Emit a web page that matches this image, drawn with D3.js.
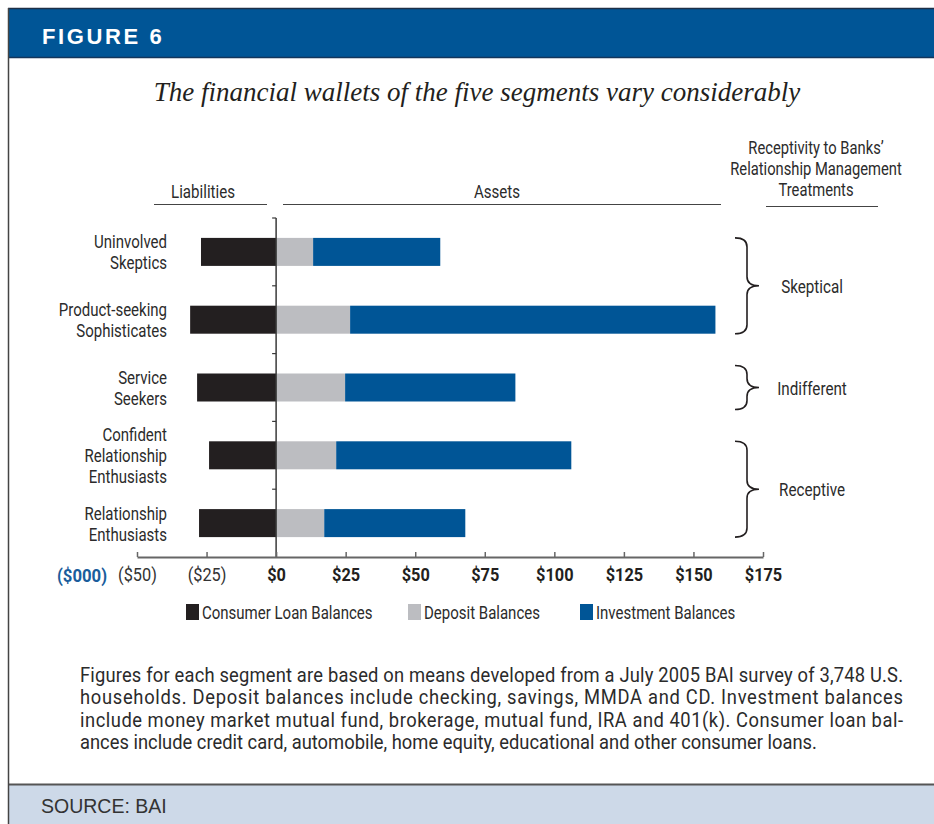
<!DOCTYPE html>
<html>
<head>
<meta charset="utf-8">
<script src="https://cdn.jsdelivr.net/npm/d3@7"></script>
<style>
  body { margin: 0; background: #fff; }
  text { font-family: "Roboto", "Liberation Sans", sans-serif; fill: #2b2b2b; }
</style>
</head>
<body>
<div id="chart"></div>
<script>
// chart data ($000)
let segments = ["Uninvolved Skeptics", "Product-seeking Sophisticates", "Service Seekers",
                "Confident Relationship Enthusiasts", "Relationship Enthusiasts"];
let segmentLines = [["Uninvolved", "Skeptics"], ["Product-seeking", "Sophisticates"],
                    ["Service", "Seekers"], ["Confident", "Relationship", "Enthusiasts"],
                    ["Relationship", "Enthusiasts"]];
let loans = [-27.0, -30.9, -28.4, -24.1, -27.7];
let deposits = [13.3, 26.6, 24.8, 21.6, 17.3];
let investments = [45.7, 131.3, 61.2, 84.5, 50.7];

let groupNames = ["Skeptical", "Indifferent", "Receptive"];
let groupFirst = [0, 2, 3];
let groupLast = [1, 2, 4];

let tickValues = [-50, -25, 0, 25, 50, 75, 100, 125, 150, 175];
let seriesNames = ["Consumer Loan Balances", "Deposit Balances", "Investment Balances"];

let footnote = [
  "Figures for each segment are based on means developed from a July 2005 BAI survey of 3,748 U.S.",
  "households. Deposit balances include checking, savings, MMDA and CD. Investment balances",
  "include money market mutual fund, brokerage, mutual fund, IRA and 401(k). Consumer loan bal-",
  "ances include credit card, automobile, home equity, educational and other consumer loans."
];

//==========================================================
let width_svg = 934, height_svg = 824;
let colors = {loan: "#231f20", deposit: "#bcbdc1", invest: "#005596"};

let svg = d3.select("#chart").append("svg")
            .attr("width", width_svg)
            .attr("height", height_svg);

// condensed text: no narrow font installed, so squeeze Roboto horizontally
function ctext(parent, x, y, str, size, sx, anchor) {
  return parent.append("text")
               .attr("transform", `translate(${x},${y}) scale(${sx},1)`)
               .attr("text-anchor", anchor || "start")
               .style("font-size", size + "px")
               .text(str);
}

// frame, header band and source band
svg.append("rect").attr("x", 8).attr("y", 8).attr("width", width_svg - 8).attr("height", 50)
   .attr("fill", "#005596");
svg.append("line").attr("x1", 8).attr("x2", width_svg).attr("y1", 8.5).attr("y2", 8.5)
   .attr("stroke", "#1d2f47").attr("stroke-width", 1.5);
svg.append("line").attr("x1", 8).attr("x2", width_svg).attr("y1", 57.5).attr("y2", 57.5)
   .attr("stroke", "#13365c").attr("stroke-width", 1.5);
svg.append("rect").attr("x", 8).attr("y", 784).attr("width", width_svg - 8).attr("height", 40)
   .attr("fill", "#cdd9e8");
svg.append("line").attr("x1", 8).attr("x2", width_svg).attr("y1", 784.5).attr("y2", 784.5)
   .attr("stroke", "#555").attr("stroke-width", 2);
svg.append("line").attr("x1", 8.5).attr("x2", 8.5).attr("y1", 8).attr("y2", height_svg)
   .attr("stroke", "#444").attr("stroke-width", 1.5);

svg.append("text").attr("x", 42).attr("y", 44)
   .style("font-family", "'Liberation Sans', Arial, sans-serif")
   .style("font-weight", "bold").style("font-size", "22px").style("letter-spacing", "2.6px")
   .style("fill", "#fff").text("FIGURE 6");

svg.append("text").attr("x", 477).attr("y", 101).attr("text-anchor", "middle")
   .style("font-family", "'Liberation Serif', 'DejaVu Serif', serif")
   .style("font-style", "italic").style("font-size", "27px").style("fill", "#231f20")
   .text("The financial wallets of the five segments vary considerably");

//==========================================================
// scales
let x = d3.scaleLinear().domain([-50, 175]).range([137, 763]);
let y = d3.scaleBand().domain(segments).range([218, 557])
          .paddingInner(0.587).paddingOuter(0.2935);

// column headers
ctext(svg, 203, 198, "Liabilities", 18, 0.84, "middle");
svg.append("line").attr("x1", 154).attr("x2", 267).attr("y1", 204.5).attr("y2", 204.5)
   .attr("stroke", "#444");
ctext(svg, 497, 198, "Assets", 18, 0.84, "middle");
svg.append("line").attr("x1", 283).attr("x2", 721).attr("y1", 204.5).attr("y2", 204.5)
   .attr("stroke", "#444");
["Receptivity to Banks\u2019", "Relationship Management", "Treatments"].forEach((t, i) => {
  ctext(svg, 816, 154 + i * 21, t, 18, 0.82, "middle");
});
svg.append("line").attr("x1", 766).attr("x2", 878).attr("y1", 206.5).attr("y2", 206.5)
   .attr("stroke", "#444");

//==========================================================
// stacked bars
let rows = segments.map((s, i) => ({seg: s, loan: loans[i], dep: deposits[i], inv: investments[i]}));
let chart = svg.append("g");

chart.selectAll(".loan").data(rows).enter().append("rect")
     .attr("class", "loan")
     .attr("x", d => x(d.loan)).attr("width", d => x(0) - x(d.loan))
     .attr("y", d => y(d.seg)).attr("height", y.bandwidth())
     .attr("fill", colors.loan);
chart.selectAll(".dep").data(rows).enter().append("rect")
     .attr("class", "dep")
     .attr("x", x(0)).attr("width", d => x(d.dep) - x(0))
     .attr("y", d => y(d.seg)).attr("height", y.bandwidth())
     .attr("fill", colors.deposit);
chart.selectAll(".inv").data(rows).enter().append("rect")
     .attr("class", "inv")
     .attr("x", d => x(d.dep)).attr("width", d => x(d.dep + d.inv) - x(d.dep))
     .attr("y", d => y(d.seg)).attr("height", y.bandwidth())
     .attr("fill", colors.invest);

// vertical zero axis with ticks between categories
let yTop = y.range()[0], yBot = y.range()[1];
chart.append("line").attr("x1", x(0)).attr("x2", x(0)).attr("y1", yTop).attr("y2", yBot)
     .attr("stroke", "#3a3a3a").attr("stroke-width", 1.5);
let bounds = segments.map(s => y(s) + y.bandwidth() / 2 - y.step() / 2);
chart.selectAll(".ytick").data(bounds).enter().append("line")
     .attr("x1", x(0) - 4).attr("x2", x(0)).attr("y1", d => d).attr("y2", d => d)
     .attr("stroke", "#3a3a3a").attr("stroke-width", 1.2);

// category labels
rows.forEach((d, i) => {
  let lines = segmentLines[i];
  let cy = y(d.seg) + y.bandwidth() / 2;
  lines.forEach((t, j) => {
    ctext(svg, 167, cy + (j - (lines.length - 1) / 2) * 21 + 7, t, 19, 0.79, "end");
  });
});

// x axis
let xAxis = svg.append("g").attr("transform", `translate(0, ${yBot})`)
               .call(d3.axisBottom(x).tickValues(tickValues).tickSize(-5).tickSizeOuter(0)
                       .tickPadding(11)
                       .tickFormat(v => v < 0 ? `($${-v})` : `$${v}`));
xAxis.select(".domain").attr("stroke", "#666").attr("stroke-width", 2);
xAxis.selectAll(".tick line").attr("stroke", "#666").attr("stroke-width", 1.5);
xAxis.selectAll(".tick text")
     .attr("transform", "scale(0.86,1)")
     .style("font-family", "'Roboto', sans-serif")
     .style("font-size", "19px")
     .style("font-weight", v => v < 0 ? "normal" : "bold")
     .style("fill", v => v < 0 ? "#333" : "#231f20");

svg.append("text").attr("transform", "translate(82,582) scale(0.88,1)")
   .attr("text-anchor", "middle")
   .style("font-size", "19px").style("font-weight", "bold").style("fill", "#1a5d9c")
   .text("($000)");

//==========================================================
// braces for receptivity groups
function bracePath(x0, y0, y1, w) {
  let m = (y0 + y1) / 2, h = w / 2;
  return `M${x0},${y0} Q${x0 + h},${y0} ${x0 + h},${y0 + 9}` +
         ` L${x0 + h},${m - 9} Q${x0 + h},${m} ${x0 + w},${m}` +
         ` Q${x0 + h},${m} ${x0 + h},${m + 9}` +
         ` L${x0 + h},${y1 - 9} Q${x0 + h},${y1} ${x0},${y1}`;
}
groupNames.forEach((g, i) => {
  let top = y(segments[groupFirst[i]]);
  let bot = y(segments[groupLast[i]]) + y.bandwidth();
  let pad = groupFirst[i] === groupLast[i] ? 8 : 0;
  svg.append("path").attr("d", bracePath(735, top - pad, bot + pad, 24))
     .attr("fill", "none").attr("stroke", "#231f20").attr("stroke-width", 1.6);
  ctext(svg, 812, (top + bot) / 2 + 7, g, 19, 0.8, "middle");
});

//==========================================================
// legend
let legendX = [186, 408, 580];
let legendColors = [colors.loan, colors.deposit, colors.invest];
seriesNames.forEach((n, i) => {
  svg.append("rect").attr("x", legendX[i]).attr("y", 604).attr("width", 13).attr("height", 16)
     .attr("fill", legendColors[i]);
  ctext(svg, legendX[i] + 16, 619, n, 19, 0.79, "start");
});

// footnote, justified like the printed block; last line sets the squeeze
let fsize = 20;
let probe = svg.append("text").style("font-size", fsize + "px").text(footnote[footnote.length - 1]);
let fsx = 737 / probe.node().getComputedTextLength();
probe.remove();
footnote.forEach((t, i) => {
  let txt = ctext(svg, 80, 682 + i * 22.3, t, fsize, fsx, "start");
  if (i < footnote.length - 1) txt.attr("textLength", 823 / fsx).attr("lengthAdjust", "spacing");
});

svg.append("text").attr("x", 41).attr("y", 813)
   .style("font-family", "'Liberation Sans', Arial, sans-serif")
   .style("font-size", "19.5px").style("fill", "#333").text("SOURCE: BAI");
</script>
</body>
</html>
